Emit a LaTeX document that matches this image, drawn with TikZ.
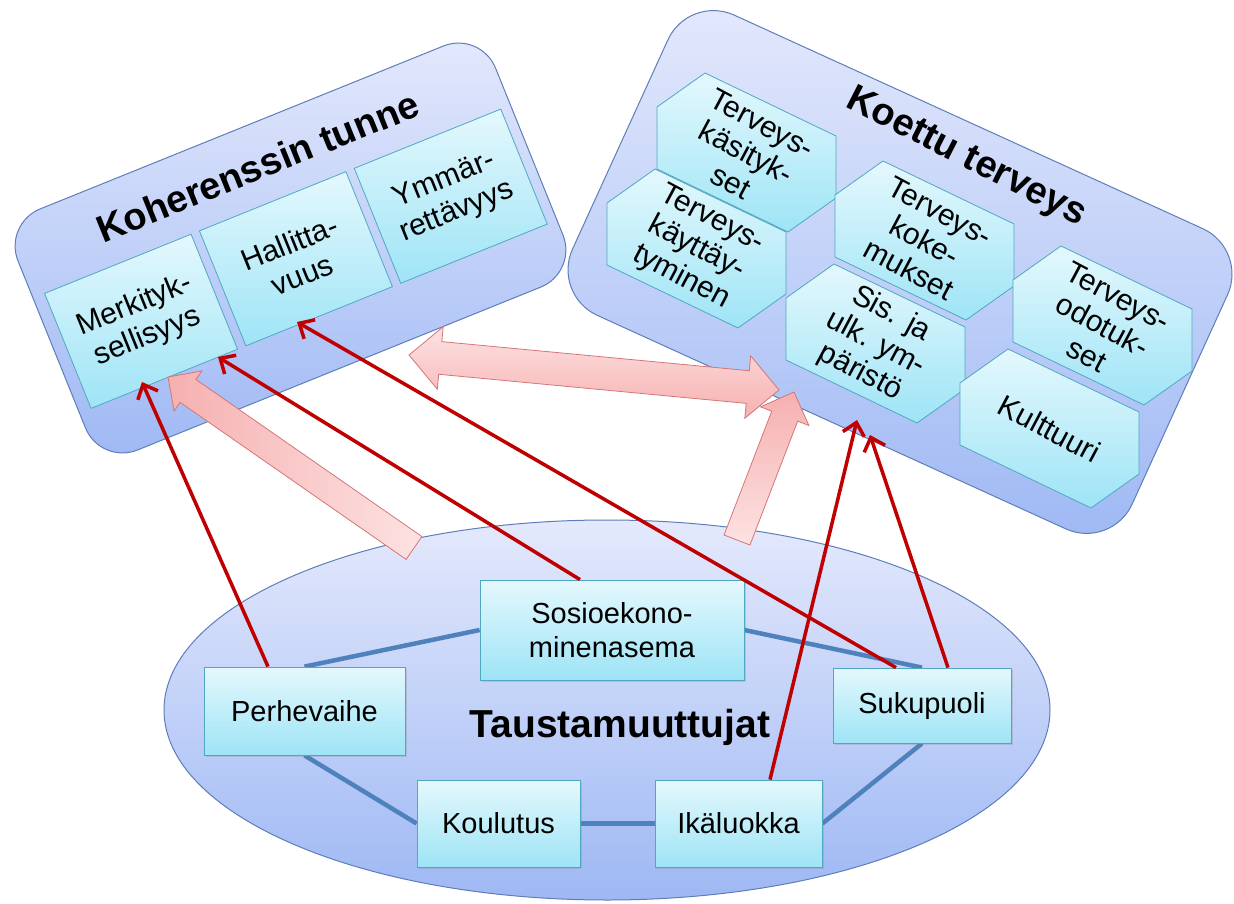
\documentclass[tikz,border=0pt]{standalone}
\usepackage{fontspec}
\setmainfont{Liberation Sans}
\usetikzlibrary{arrows.meta,shapes.arrows,shapes.geometric,calc,shadows}
\definecolor{boxtop}{RGB}{228,233,252}
\definecolor{boxbot}{RGB}{158,184,244}
\definecolor{boxline}{RGB}{95,125,185}
\definecolor{cyantop}{RGB}{228,248,253}
\definecolor{cyanbot}{RGB}{158,228,246}
\definecolor{cyanline}{RGB}{80,168,192}
\definecolor{darkred}{RGB}{192,0,0}
\definecolor{pinkA}{RGB}{253,226,226}
\definecolor{pinkB}{RGB}{246,176,176}
\definecolor{pinkline}{RGB}{212,118,118}
\definecolor{linkblue}{RGB}{79,129,189}
\pgfdeclarelayer{bglayer}
\pgfdeclarelayer{linklayer}
\pgfsetlayers{bglayer,linklayer,main}
\tikzset{
 outerbox/.style={draw=boxline, line width=1pt, top color=boxtop, bottom color=boxbot},
 sqbox/.style={draw=cyanline, line width=0.8pt, top color=cyantop, bottom color=cyanbot, minimum width=158pt, minimum height=124pt, align=center, inner sep=0pt, font=\fontsize{30}{34}\selectfont},
 hexstyle/.style={draw=cyanline, line width=0.8pt, top color=cyantop, bottom color=cyanbot},
 hextext/.style={align=center, rotate=-28, font=\fontsize{30}{33}\selectfont, inner sep=0pt},
 titletext/.style={font=\bfseries\fontsize{38}{40}\selectfont, inner sep=0pt},
 bgbox/.style={draw=cyanline, line width=0.8pt, top color=cyantop, bottom color=cyanbot, align=center, inner sep=0pt, font=\fontsize{29}{34}\selectfont, drop shadow={shadow xshift=2pt, shadow yshift=-2pt, opacity=0.25}},
 link/.style={draw=linkblue, line width=4.5pt},
 redarrow/.style={draw=darkred, line width=3.5pt, -{Straight Barb[length=12pt,width=22pt]}},
 pinkarrow/.style={draw=pinkline, line width=0.8pt, inner xsep=0pt, outer sep=0pt},
}
\newcommand\hexagonat[1]{\draw[hexstyle] (#1) ++(-89.5,-45.5) -- ++(48,-34) -- ++(131,63) -- ++(0,62) -- ++(-48,34) -- ++(-131,-63) -- cycle;}
\newcommand\pinkblock[5]{%
 \path let \p1=(#1), \p2=(#2), \n1={atan2(\y2-\y1,\x2-\x1)}, \n2={veclen(\x2-\x1,\y2-\y1)} in
  node[pinkarrow, single arrow, anchor=tail, rotate=\n1, minimum height=\n2, inner ysep=#3, single arrow head extend=#4, #5] at (#1) {};}
\newcommand\pinkdouble[4]{%
 \path let \p1=(#1), \p2=(#2), \n1={atan2(\y2-\y1,\x2-\x1)}, \n2={veclen(\x2-\x1,\y2-\y1)} in
  node[pinkarrow, double arrow, rotate=\n1, minimum height=\n2, inner ysep=#3, double arrow head extend=#4, top color=pinkA, bottom color=pinkB] at ($(#1)!0.5!(#2)$) {};}
\begin{document}
\begin{tikzpicture}[x=1pt,y=-1pt]
\useasboundingbox (0,0) rectangle (1234,904);
% left box
\node[outerbox, rotate=22, minimum width=515pt, minimum height=260pt, rounded corners=40pt] (koh) at (290.5,248) {};
\begin{scope}[shift={(290.5,248)}, rotate=22, transform shape]
 \node[titletext] (kohtitle) at (0,-88) {Koherenssin tunne};
 \node[sqbox] (merk) at (-166,12) {Merkityk-\\sellisyys};
 \node[sqbox] (hall) at (1,12) {Hallitta-\\vuus};
 \node[sqbox] (ymm) at (168,12) {Ymmär-\\rettävyys};
\end{scope}
% right box
\node[outerbox, rotate=-24.5, minimum width=615pt, minimum height=330pt, rounded corners=50pt] (koe) at (900,272) {};
\node[titletext, rotate=-27] (koetitle) at (966,158) {Koettu terveys};
\hexagonat{746.5,152.5}
\node[hextext] (kas) at (746.5,152.5) {Terveys-\\käsityk-\\set};
\hexagonat{696.5,248.5}
\node[hextext] (kay) at (696.5,248.5) {Terveys-\\käyttäy-\\tyminen};
\hexagonat{924.5,240.5}
\node[hextext] (kok) at (924.5,240.5) {Terveys-\\koke-\\mukset};
\hexagonat{875.5,343.5}
\node[hextext] (ymp) at (875.5,343.5) {Sis. ja\\ulk. ym-\\päristö};
\hexagonat{1102.5,325.5}
\node[hextext] (odo) at (1102.5,325.5) {Terveys-\\odotuk-\\set};
\hexagonat{1049.5,428.5}
\node[hextext] (kul) at (1049.5,428.5) {Kulttuuri};
% background ellipse
\begin{pgfonlayer}{bglayer}
\node[outerbox, ellipse, minimum width=886pt, minimum height=380pt, inner sep=0pt] (bg) at (607,710) {};
\end{pgfonlayer}
\node[bgbox, minimum width=201pt, minimum height=88pt] (perhe) at (304.5,711) {Perhevaihe};
\node[bgbox, minimum width=264pt, minimum height=100pt] (sosio) at (612,630) {Sosioekono-\\minenasema};
\node[bgbox, minimum width=178pt, minimum height=75pt] (suku) at (922,705.5) {Sukupuoli};
\node[bgbox, minimum width=163pt, minimum height=87pt] (koul) at (498.5,823.5) {Koulutus};
\node[bgbox, minimum width=167pt, minimum height=87pt] (ika) at (738.5,823.5) {Ikäluokka};
\begin{pgfonlayer}{linklayer}
\path[link] (perhe.north) -- (sosio.west);
\path[link] (sosio.east) -- (suku.north);
\path[link] (perhe.south) -- (koul.west);
\path[link] (koul.east) -- (ika.west);
\path[link] (ika.east) -- (suku.south);
\end{pgfonlayer}
\node[font=\bfseries\fontsize{39}{42}\selectfont, anchor=base, inner sep=0pt] (taus) at (620,737) {Taustamuuttujat};
% pink block arrows
\coordinate (pAt) at (414,548); \coordinate (pAh) at (168,377);
\coordinate (pBt) at (737,540); \coordinate (pBh) at (794,392);
\coordinate (pC1) at (409,355); \coordinate (pC2) at (779,390);
\pinkblock{pAt}{pAh}{13.5pt}{10.5pt}{left color=pinkB, right color=pinkA}
\pinkblock{pBt}{pBh}{13.5pt}{12pt}{top color=pinkB, bottom color=pinkA}
\pinkdouble{pC1}{pC2}{16pt}{15pt}
% red arrows
\coordinate (r1) at (142,382);
\coordinate (r2) at (218,357);
\coordinate (r3) at (297,322);
\coordinate (r4) at (870,435);
\coordinate (r5) at (857,420);
\draw[redarrow] ([xshift=-36.5pt]perhe.north) -- (r1);
\draw[redarrow] ([xshift=-32pt]sosio.north) -- (r2);
\draw[redarrow] ([xshift=-26pt]suku.north) -- (r3);
\draw[redarrow] ([xshift=26pt]suku.north) -- (r4);
\draw[redarrow] ([xshift=31.5pt]ika.north) -- (r5);
\end{tikzpicture}
\end{document}
